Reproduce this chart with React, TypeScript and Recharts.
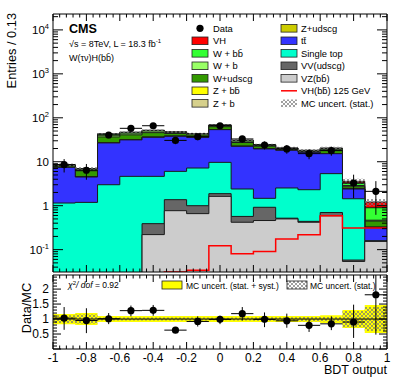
import React from 'react';
import { ComposedChart, Area, Line, Scatter, ErrorBar, XAxis, YAxis, ReferenceLine } from 'recharts';

const FONT = '"Liberation Sans", Arial, Helvetica, sans-serif';

// 15 bins of BDT output
const binEdges = [-1, -0.8667, -0.7333, -0.6, -0.4667, -0.3333, -0.2, -0.0667, 0.0667, 0.2, 0.3333, 0.4667, 0.6, 0.7333, 0.8667, 1];

// stacked MC expectation (events / bin), bottom -> top
const vzbb = [0, 0, 0, 0, 0.22, 0.77, 0.66, 1.63, 0.42, 0.46, 0.5, 0.42, 0.59, 0.054, 0.154];
const vvudscg = [0, 0, 0, 0, 0.17, 0.6, 0.34, 0.25, 0.15, 0.46, 0.02, 0.02, 0.11, 0.004, 0.003];
const singleTop = [1.15, 1.19, 3.0, 4.65, 4.26, 4.67, 6.2, 7.8, 1.83, 0.55, 2.01, 1.87, 4.66, 1.38, 0.002];
const ttbar = [6.3, 3.3, 23.8, 26.8, 31.3, 31.9, 28.8, 44.1, 20.0, 18.1, 15.7, 14.1, 9.9, 0.96, 0.156];
const zudscg = [0.02, 0.02, 0.1, 0.1, 0.1, 0.08, 0.06, 0.1, 0.05, 0.04, 0.03, 0.03, 0.04, 0.01, 0.005];
const zb = [0.01, 0.01, 0.05, 0.05, 0.05, 0.04, 0.03, 0.05, 0.03, 0.02, 0.02, 0.02, 0.02, 0.005, 0.003];
const zbb = [0.01, 0.01, 0.05, 0.05, 0.05, 0.04, 0.03, 0.05, 0.03, 0.02, 0.02, 0.02, 0.03, 0.01, 0.005];
const wudscg = [0.7, 1.7, 9.8, 9.3, 9.8, 5.9, 4.5, 8.8, 4.9, 2.9, 1.25, 0.85, 2.7, 0.28, 0.12];
const wb = [0.2, 0.5, 4, 3.8, 4, 2.5, 2, 4, 2, 1.2, 0.5, 0.4, 1.1, 0.17, 0.02];
const wbb = [0.1, 0.26, 2.2, 2, 1.9, 1.3, 1, 2, 1.2, 0.6, 0.4, 0.3, 0.8, 0.4, 0.43];
const vh = [0, 0, 0, 0, 0, 0.031, 0.034, 0.123, 0.081, 0.091, 0.174, 0.218, 0.59, 0.31, 0.31];

const mcStatErr = [0.6, 0.6, 2.0, 2.0, 2.2, 2.0, 1.9, 2.6, 1.6, 1.4, 1.3, 1.2, 1.3, 0.5, 0.22];

// observed data
const dataCounts = [8.6, 6.4, 40.6, 57.6, 66, 30.6, 37, 66, 33, 24, 19.6, 15.3, 17.9, 3.28, 2.12];
const dataErr = [2.9, 2.5, 6.4, 7.6, 8.1, 5.5, 6.1, 8.1, 5.7, 4.9, 4.4, 3.9, 4.2, 1.8, 1.5];

// ratio panel
const ratioValues = [1.03, 0.95, 1.01, 1.28, 1.29, 0.63, 0.92, 0.99, 1.18, 0.99, 0.94, 0.79, 0.84, 0.9, 1.81];
const ratioErrLo = [0.39, 0.42, 0.18, 0.19, 0.18, 0.1, 0.17, 0.16, 0.23, 0.26, 0.23, 0.22, 0.21, 0.53, 1.33];
const ratioErrHi = [0.37, 0.41, 0.19, 0.17, 0.18, 0.1, 0.17, 0.12, 0.22, 0.23, 0.24, 0.19, 0.25, 0.58, 0.66];
const bandStatSyst = [0.17, 0.2, 0.1, 0.1, 0.1, 0.1, 0.1, 0.1, 0.1, 0.1, 0.1, 0.1, 0.13, 0.3, 0.47];
const bandStat = [0.13, 0.15, 0.05, 0.05, 0.05, 0.05, 0.05, 0.04, 0.05, 0.06, 0.06, 0.07, 0.07, 0.27, 0.4];

const layers = [
  { key: 'vzbb', color: '#cccccc', values: vzbb },
  { key: 'vvudscg', color: '#666666', values: vvudscg },
  { key: 'singleTop', color: '#00ffcc', values: singleTop },
  { key: 'ttbar', color: '#3333ff', values: ttbar },
  { key: 'zudscg', color: '#cccc00', values: zudscg },
  { key: 'zb', color: '#d6d08c', values: zb },
  { key: 'zbb', color: '#ffff00', values: zbb },
  { key: 'wudscg', color: '#339900', values: wudscg },
  { key: 'wb', color: '#99ff66', values: wb },
  { key: 'wbb', color: '#33ff33', values: wbb },
  { key: 'vh', color: '#ff0000', values: vh },
];

const Y_MIN = 0.031;
const Y_MAX = 23000;
const R_MAX = 2.47;
const nBins = binEdges.length - 1;
const floorLog = (v: number) => Math.max(v, 1e-3);

const cumulative: number[][] = [];
layers.forEach((l, li) => {
  cumulative.push(l.values.map((v, i) => (li ? cumulative[li - 1][i] : 0) + v));
});
const total = cumulative[cumulative.length - 1];

const stackRows = binEdges.map((x, i) => {
  const b = Math.min(i, nBins - 1);
  const row: any = { x };
  layers.forEach((l, li) => {
    row[l.key] = floorLog(cumulative[li][b]);
  });
  row.mcBand = [total[b] - mcStatErr[b], total[b] + mcStatErr[b]];
  row.vhLine = floorLog(vh[b]);
  return row;
});

const ratioRows = binEdges.map((x, i) => {
  const b = Math.min(i, nBins - 1);
  return { x, tot: [1 - bandStatSyst[b], 1 + bandStatSyst[b]], stat: [1 - bandStat[b], 1 + bandStat[b]] };
});

const center = (i: number) => (binEdges[i] + binEdges[i + 1]) / 2;
const halfW = (i: number) => (binEdges[i + 1] - binEdges[i]) / 2;

const dataPts = dataCounts.map((y, i) => ({ x: center(i), y, yErr: dataErr[i], xErr: halfW(i) }));
const ratioPts = ratioValues.map((y, i) => ({ x: center(i), y, yErr: [ratioErrLo[i], ratioErrHi[i]], xErr: halfW(i) }));

// axis ticks
const xTicks: number[] = [];
for (let i = 0; i <= 50; i++) xTicks.push(Number((-1 + i * 0.04).toFixed(2)));
const logTicks: number[] = [];
for (let e = -2; e <= 4; e++) {
  for (let m = 1; m <= 9; m++) {
    const v = Number((m * Math.pow(10, e)).toPrecision(3));
    if (v >= Y_MIN && v <= Y_MAX) logTicks.push(v);
  }
}
const rTicks: number[] = [];
for (let i = 0; i <= 24; i++) rTicks.push(Number((i * 0.1).toFixed(1)));

const isMajorX = (v: number) => Math.abs(v * 5 - Math.round(v * 5)) < 1e-6;
const isMajorLog = (v: number) => {
  const e = Math.round(Math.log10(v));
  return Math.abs(v / Math.pow(10, e) - 1) < 1e-6;
};
const isMajorR = (v: number) => Math.abs(v * 2 - Math.round(v * 2)) < 1e-6;

const xTick = (dir: number, labels: boolean) => (p: any) => {
  const v = p.payload.value;
  const major = isMajorX(v);
  return (
    <g>
      <line x1={p.x} x2={p.x} y1={p.y} y2={p.y + dir * (major ? 7 : 3.5)} stroke="#000" strokeWidth={1} />
      {labels && major && (
        <text x={p.x} y={p.y + 12.5} textAnchor="middle" fontSize={12} fontFamily={FONT} fill="#000">
          {String(Number(v.toFixed(1)))}
        </text>
      )}
    </g>
  );
};

const logTick = (dir: number, labels: boolean) => (p: any) => {
  const v = p.payload.value;
  const major = isMajorLog(v);
  const e = Math.round(Math.log10(v));
  return (
    <g>
      <line x1={p.x} x2={p.x + dir * (major ? 10 : 5)} y1={p.y} y2={p.y} stroke="#000" strokeWidth={1} />
      {labels && major && (
        <text x={p.x - 4} y={p.y + 4} textAnchor="end" fontSize={11.5} fontFamily={FONT} fill="#000">
          {e === 0 ? '1' : '10'}
          {e !== 0 && e !== 1 && (
            <tspan dy={-5} fontSize={7.5}>
              {e}
            </tspan>
          )}
        </text>
      )}
    </g>
  );
};

const rTick = (dir: number, labels: boolean) => (p: any) => {
  const v = p.payload.value;
  const major = isMajorR(v);
  return (
    <g>
      <line x1={p.x} x2={p.x + dir * (major ? 8 : 4)} y1={p.y} y2={p.y} stroke="#000" strokeWidth={1} />
      {labels && major && v > 0 && (
        <text x={p.x - 4} y={p.y + 4} textAnchor="end" fontSize={12} fontFamily={FONT} fill="#000">
          {String(v)}
        </text>
      )}
    </g>
  );
};

const dot = (p: any) => <circle cx={p.cx} cy={p.cy} r={3.6} fill="#000" />;

const hatchDef = (id: string) => (
  <pattern id={id} width="4" height="4" patternUnits="userSpaceOnUse">
    <path d="M0,0 L4,4 M4,0 L0,4" stroke="#777" strokeWidth="0.7" />
  </pattern>
);

const leftLegend = [
  { label: 'Data', kind: 'marker' },
  { label: 'VH', kind: 'box', color: '#ff0000' },
  { label: 'W + bb\u0304', kind: 'box', color: '#33ff33' },
  { label: 'W + b', kind: 'box', color: '#99ff66' },
  { label: 'W+udscg', kind: 'box', color: '#339900' },
  { label: 'Z + bb\u0304', kind: 'box', color: '#ffff00' },
  { label: 'Z + b', kind: 'box', color: '#d6d08c' },
];
const rightLegend = [
  { label: 'Z+udscg', kind: 'box', color: '#cccc00' },
  { label: 'tt\u0304', kind: 'box', color: '#3333ff' },
  { label: 'Single top', kind: 'box', color: '#00ffcc' },
  { label: 'VV(udscg)', kind: 'box', color: '#666666' },
  { label: 'VZ(bb\u0304)', kind: 'box', color: '#cccccc' },
  { label: 'VH(bb\u0304) 125 GeV', kind: 'line', color: '#ff0000' },
  { label: 'MC uncert. (stat.)', kind: 'hatch' },
];

const LegendColumn = ({ items, boxX, textX }: { items: any[]; boxX: number; textX: number }) => (
  <g>
    {items.map((it, i) => {
      const cy = 28.3 + i * 12.5;
      return (
        <g key={it.label}>
          {it.kind === 'marker' && <circle cx={boxX + 8} cy={cy} r={3.6} fill="#000" />}
          {it.kind === 'box' && <rect x={boxX} y={cy - 3.8} width={16} height={7.6} fill={it.color} stroke="#222" strokeWidth={0.8} />}
          {it.kind === 'line' && <line x1={boxX} x2={boxX + 16} y1={cy} y2={cy} stroke={it.color} strokeWidth={1.5} />}
          {it.kind === 'hatch' && <rect x={boxX} y={cy - 3.8} width={16} height={7.6} fill="url(#hatchLeg)" />}
          <text x={textX} y={cy + 3.3} fontSize={9.4} fontFamily={FONT} fill="#000">
            {it.label}
          </text>
        </g>
      );
    })}
  </g>
);

export default function App() {
  return (
    <div style={{ position: 'absolute', left: 0, top: 0, width: 407, height: 391, background: '#fff' }}>
      <div style={{ position: 'absolute', left: 0, top: 0 }}>
        <ComposedChart width={407} height={273} data={stackRows} margin={{ top: 13, right: 0, bottom: 0, left: 0 }}>
          <defs>{hatchDef('hatchMain')}</defs>
          <XAxis xAxisId="b" dataKey="x" type="number" domain={[-1, 1]} allowDataOverflow ticks={xTicks} interval={0}
            height={1} tickSize={0} tickMargin={0} tickLine={false} axisLine={{ stroke: '#000' }} tick={xTick(-1, false)} />
          <XAxis xAxisId="t" orientation="top" dataKey="x" type="number" domain={[-1, 1]} allowDataOverflow ticks={xTicks} interval={0}
            height={1} tickSize={0} tickMargin={0} tickLine={false} axisLine={{ stroke: '#000' }} tick={xTick(1, false)} />
          <YAxis yAxisId="l" type="number" scale="log" domain={[Y_MIN, Y_MAX]} allowDataOverflow ticks={logTicks} interval={0}
            width={53} tickSize={0} tickMargin={0} tickLine={false} axisLine={{ stroke: '#000' }} tick={logTick(1, true)} />
          <YAxis yAxisId="r" orientation="right" type="number" scale="log" domain={[Y_MIN, Y_MAX]} allowDataOverflow ticks={logTicks} interval={0}
            width={20} tickSize={0} tickMargin={0} tickLine={false} axisLine={{ stroke: '#000' }} tick={logTick(-1, false)} />
          {[...layers].reverse().map((l) => (
            <Area key={l.key} xAxisId="b" yAxisId="l" dataKey={l.key} type="stepAfter" fill={l.color} fillOpacity={1}
              stroke="#1a1a1a" strokeWidth={1} baseValue={Y_MIN} dot={false} activeDot={false} isAnimationActive={false} />
          ))}
          <Area xAxisId="b" yAxisId="l" dataKey="mcBand" type="stepAfter" fill="url(#hatchMain)" fillOpacity={1} stroke="none"
            dot={false} activeDot={false} isAnimationActive={false} />
          <Line xAxisId="b" yAxisId="l" dataKey="vhLine" type="stepAfter" stroke="#ff0000" strokeWidth={1.5} dot={false}
            activeDot={false} isAnimationActive={false} />
          <Scatter xAxisId="b" yAxisId="l" data={dataPts} dataKey="y" shape={dot} isAnimationActive={false}>
            <ErrorBar dataKey="yErr" direction="y" width={0} stroke="#000" strokeWidth={1} isAnimationActive={false} />
            <ErrorBar dataKey="xErr" direction="x" width={0} stroke="#000" strokeWidth={1} isAnimationActive={false} />
          </Scatter>
        </ComposedChart>
      </div>

      <div style={{ position: 'absolute', left: 0, top: 274 }}>
        <ComposedChart width={407} height={117} data={ratioRows} margin={{ top: 0, right: 0, bottom: 12, left: 0 }}>
          <defs>{hatchDef('hatchRatio')}</defs>
          <XAxis xAxisId="b" dataKey="x" type="number" domain={[-1, 1]} allowDataOverflow ticks={xTicks} interval={0}
            height={30} tickSize={0} tickMargin={0} tickLine={false} axisLine={{ stroke: '#000' }} tick={xTick(-1, true)} />
          <XAxis xAxisId="t" orientation="top" dataKey="x" type="number" domain={[-1, 1]} allowDataOverflow ticks={xTicks} interval={0}
            height={1} tickSize={0} tickMargin={0} tickLine={false} axisLine={{ stroke: '#000' }} tick={xTick(1, false)} />
          <YAxis yAxisId="l" type="number" domain={[0, R_MAX]} allowDataOverflow ticks={rTicks} interval={0}
            width={53} tickSize={0} tickMargin={0} tickLine={false} axisLine={{ stroke: '#000' }} tick={rTick(1, true)} />
          <YAxis yAxisId="r" orientation="right" type="number" domain={[0, R_MAX]} allowDataOverflow ticks={rTicks} interval={0}
            width={20} tickSize={0} tickMargin={0} tickLine={false} axisLine={{ stroke: '#000' }} tick={rTick(-1, false)} />
          <Area xAxisId="b" yAxisId="l" dataKey="tot" type="stepAfter" fill="#ffff00" fillOpacity={1} stroke="none"
            dot={false} activeDot={false} isAnimationActive={false} />
          <Area xAxisId="b" yAxisId="l" dataKey="stat" type="stepAfter" fill="url(#hatchRatio)" fillOpacity={1} stroke="none"
            dot={false} activeDot={false} isAnimationActive={false} />
          <ReferenceLine xAxisId="b" yAxisId="l" y={1} stroke="#000" strokeWidth={1} />
          <Scatter xAxisId="b" yAxisId="l" data={ratioPts} dataKey="y" shape={dot} isAnimationActive={false}>
            <ErrorBar dataKey="yErr" direction="y" width={0} stroke="#000" strokeWidth={1} isAnimationActive={false} />
            <ErrorBar dataKey="xErr" direction="x" width={0} stroke="#000" strokeWidth={1} isAnimationActive={false} />
          </Scatter>
        </ComposedChart>
      </div>

      <svg width={407} height={391} style={{ position: 'absolute', left: 0, top: 0, pointerEvents: 'none' }}>
        <defs>{hatchDef('hatchLeg')}</defs>
        <text transform="translate(16,13) rotate(-90)" textAnchor="end" fontSize={12.8} fontFamily={FONT} fill="#000">
          Entries / 0.13
        </text>
        <text transform="translate(31,308) rotate(-90)" textAnchor="middle" fontSize={12.8} fontFamily={FONT} fill="#000">
          Data/MC
        </text>
        <text x={387} y={374} textAnchor="end" fontSize={12.5} fontFamily={FONT} fill="#000">
          BDT output
        </text>
        <text x={69} y={33} fontSize={12.6} fontWeight="bold" fontFamily={FONT} fill="#000">
          CMS
        </text>
        <text x={69} y={46.5} fontSize={9} fontFamily={FONT} fill="#000">
          {'\u221As =  8TeV, L = 18.3 fb'}
          <tspan dy={-4} fontSize={6}>-1</tspan>
        </text>
        <text x={69} y={60.5} fontSize={9} fontFamily={FONT} fill="#000">
          {'W(\u03C4\u03BD)H(bb\u0304)'}
        </text>
        <LegendColumn items={leftLegend} boxX={192} textX={213} />
        <LegendColumn items={rightLegend} boxX={281} textX={301} />

        <text x={68} y={288} fontSize={8.5} fontFamily={FONT} fill="#000">
          <tspan fontStyle="italic">{'\u03C7'}</tspan>
          <tspan dy={-3} fontSize={6}>2</tspan>
          <tspan dy={3} fontStyle="italic">/ dof</tspan>
          <tspan>{' = 0.92'}</tspan>
        </text>
        <rect x={162} y={281} width={20} height={8} fill="#ffff00" stroke="#222" strokeWidth={0.8} />
        <text x={186} y={288.5} fontSize={8.5} fontFamily={FONT} fill="#000">
          MC uncert. (stat. + syst.)
        </text>
        <rect x={287} y={281} width={20} height={8} fill="url(#hatchLeg)" stroke="#222" strokeWidth={0.8} />
        <text x={310} y={288.5} fontSize={8.5} fontFamily={FONT} fill="#000">
          MC uncert. (stat.)
        </text>
      </svg>
    </div>
  );
}
